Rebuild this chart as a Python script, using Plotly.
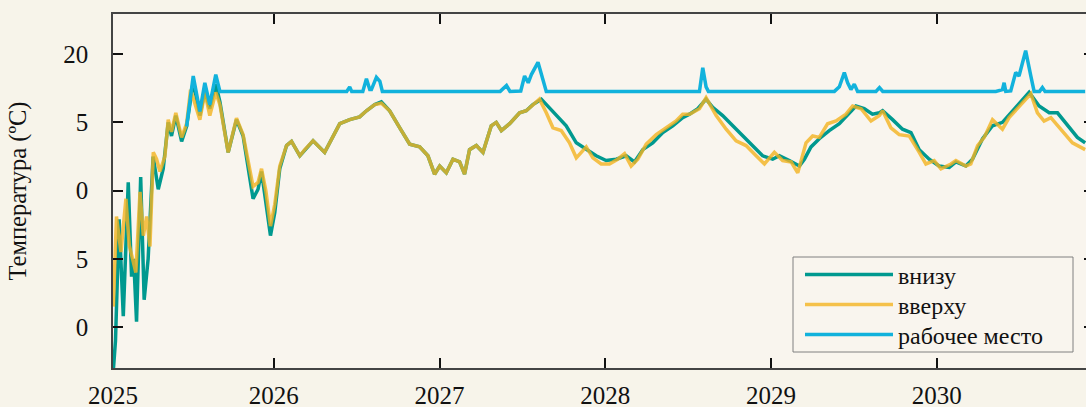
import plotly.graph_objects as go

# ---- data ----
bottom_x = [2025.030, 2025.045, 2025.067, 2025.092, 2025.122, 2025.142, 2025.155, 2025.172, 2025.197,
            2025.218, 2025.242, 2025.263, 2025.272, 2025.303, 2025.333, 2025.363, 2025.383, 2025.409,
            2025.444, 2025.474, 2025.514, 2025.554, 2025.584, 2025.614, 2025.650, 2025.675, 2025.725,
            2025.775, 2025.815, 2025.875, 2025.905, 2025.926, 2025.952, 2025.980, 2026.006, 2026.036,
            2026.077, 2026.107, 2026.157, 2026.187, 2026.237, 2026.307, 2026.398, 2026.458, 2026.518,
            2026.559, 2026.609, 2026.649, 2026.699, 2026.760, 2026.820, 2026.880, 2026.930, 2026.970,
            2027.001, 2027.041, 2027.081, 2027.121, 2027.151, 2027.181, 2027.222, 2027.262, 2027.312,
            2027.342, 2027.373, 2027.423, 2027.483, 2027.523, 2027.563, 2027.614, 2027.653, 2027.704,
            2027.764, 2027.825, 2027.885, 2027.945, 2028.005, 2028.066, 2028.126, 2028.176, 2028.226,
            2028.286, 2028.347, 2028.407, 2028.467, 2028.508, 2028.558, 2028.608, 2028.648, 2028.708,
            2028.769, 2028.829, 2028.889, 2028.949, 2029.010, 2029.050, 2029.110, 2029.171, 2029.201,
            2029.241, 2029.291, 2029.351, 2029.412, 2029.472, 2029.512, 2029.562, 2029.612, 2029.654,
            2029.673, 2029.733, 2029.793, 2029.844, 2029.894, 2029.954, 2030.014, 2030.075, 2030.115,
            2030.175, 2030.215, 2030.276, 2030.336, 2030.396, 2030.456, 2030.507, 2030.557, 2030.617,
            2030.678, 2030.728, 2030.788, 2030.848, 2030.895]
bottom_y = [-3.5, -1.0, 7.9, 0.8, 10.6, 3.7, 5.0, 0.4, 11.0,
            2.0, 5.0, 9.9, 12.5, 10.1, 11.6, 15.0, 14.0, 15.5,
            13.6, 14.7, 18.0, 15.5, 17.3, 16.0, 17.8, 16.5, 12.8,
            15.2, 14.0, 9.4, 10.1, 11.4, 9.2, 6.7, 8.4, 11.6,
            13.3, 13.6, 12.55, 13.0, 13.65, 12.8, 14.9, 15.2, 15.4,
            15.85, 16.3, 16.5, 15.85, 14.6, 13.4, 13.2, 12.55, 11.2,
            11.8, 11.3, 12.3, 12.1, 11.2, 13.0, 13.3, 12.8, 14.75,
            15.0, 14.4, 14.9, 15.7, 15.85, 16.3, 16.7, 16.2, 15.5,
            14.75, 13.5, 13.0, 12.55, 12.2, 12.3, 12.55, 12.1, 13.0,
            13.5, 14.25, 14.75, 15.35, 15.6, 16.0, 16.7, 16.1, 15.5,
            14.75, 14.0, 13.3, 12.55, 12.3, 12.55, 12.2, 11.8, 12.3,
            13.2, 13.8, 14.4, 14.9, 15.7, 16.2, 16.0, 15.6, 15.7,
            15.85, 15.2, 14.5, 14.25, 13.0, 12.3, 11.8, 11.7, 12.1,
            11.8, 12.3, 13.8, 14.75, 15.0, 15.85, 16.5, 17.2, 16.2,
            15.7, 15.7, 14.75, 13.9, 13.5]

top_x = [2025.032, 2025.051, 2025.078, 2025.108, 2025.128, 2025.148, 2025.168, 2025.193, 2025.213,
         2025.233, 2025.253, 2025.273, 2025.293, 2025.313, 2025.343, 2025.363, 2025.383, 2025.409,
         2025.444, 2025.474, 2025.498, 2025.554, 2025.584, 2025.614, 2025.650, 2025.675, 2025.725,
         2025.775, 2025.815, 2025.875, 2025.905, 2025.926, 2025.952, 2025.980, 2026.006, 2026.036,
         2026.077, 2026.107, 2026.157, 2026.187, 2026.237, 2026.307, 2026.398, 2026.458, 2026.518,
         2026.559, 2026.609, 2026.649, 2026.699, 2026.760, 2026.820, 2026.880, 2026.930, 2026.970,
         2027.001, 2027.041, 2027.081, 2027.121, 2027.151, 2027.181, 2027.222, 2027.262, 2027.312,
         2027.342, 2027.373, 2027.423, 2027.483, 2027.523, 2027.563, 2027.603, 2027.644, 2027.684,
         2027.734, 2027.784, 2027.825, 2027.885, 2027.925, 2027.975, 2028.025, 2028.075, 2028.116,
         2028.156, 2028.196, 2028.247, 2028.307, 2028.367, 2028.427, 2028.467, 2028.508, 2028.568,
         2028.608, 2028.669, 2028.729, 2028.789, 2028.849, 2028.910, 2028.960, 2029.020, 2029.070,
         2029.121, 2029.161, 2029.211, 2029.251, 2029.291, 2029.341, 2029.392, 2029.452, 2029.492,
         2029.543, 2029.603, 2029.654, 2029.673, 2029.723, 2029.773, 2029.834, 2029.894, 2029.934,
         2029.984, 2030.025, 2030.085, 2030.115, 2030.175, 2030.205, 2030.246, 2030.286, 2030.336,
         2030.396, 2030.436, 2030.497, 2030.547, 2030.567, 2030.607, 2030.647, 2030.688, 2030.748,
         2030.818, 2030.895]
top_y = [1.5, 8.1, 5.5, 9.4, 6.0, 5.0, 4.0, 9.9, 6.7,
         8.1, 5.9, 12.8, 12.3, 11.4, 12.5, 15.2, 14.3, 15.7,
         13.9, 14.9, 17.4, 15.2, 17.2, 15.5, 17.2, 16.3, 12.8,
         15.3, 14.1, 10.3, 10.6, 11.6, 10.0, 7.4, 9.0, 11.8,
         13.3, 13.6, 12.55, 13.0, 13.65, 12.8, 14.9, 15.2, 15.4,
         15.85, 16.3, 16.4, 15.85, 14.6, 13.4, 13.2, 12.55, 11.2,
         11.8, 11.3, 12.3, 12.1, 11.2, 13.0, 13.3, 12.8, 14.75,
         15.0, 14.4, 14.9, 15.7, 15.85, 16.3, 16.7, 15.7, 14.6,
         14.4, 13.5, 12.4, 13.2, 12.4, 11.95, 11.95, 12.3, 12.7,
         11.8, 12.3, 13.4, 14.1, 14.6, 15.1, 15.6, 15.6, 16.0,
         16.8, 15.5, 14.5, 13.65, 13.3, 12.55, 11.95, 12.8, 12.2,
         12.1, 11.3, 13.5, 14.0, 13.9, 14.9, 15.1, 15.6, 16.2,
         16.0, 15.1, 15.5, 15.85, 14.6, 14.1, 14.0, 12.8, 11.95,
         12.2, 11.6, 11.95, 12.2, 11.8, 11.95, 13.3, 13.9, 15.2,
         14.5, 15.35, 16.2, 16.8, 17.1, 15.7, 15.1, 15.35, 14.5,
         13.5, 13.0]

work_x = [2025.474, 2025.514, 2025.554, 2025.584, 2025.614, 2025.650, 2025.675,
          2026.440, 2026.458, 2026.470, 2026.537, 2026.559, 2026.579, 2026.589, 2026.619, 2026.640, 2026.655,
          2027.366, 2027.404, 2027.425, 2027.490, 2027.513, 2027.535, 2027.554, 2027.594, 2027.624, 2027.644,
          2028.568, 2028.588, 2028.608, 2028.622,
          2029.382, 2029.412, 2029.442, 2029.462, 2029.482, 2029.502, 2029.522,
          2029.633, 2029.654, 2029.674,
          2030.356, 2030.396, 2030.406, 2030.416, 2030.446, 2030.466, 2030.476, 2030.496, 2030.526,
          2030.536, 2030.567, 2030.587, 2030.620, 2030.637, 2030.653, 2030.895]
work_y = [14.7, 18.4, 15.8, 17.9, 16.3, 18.5, 17.27,
          17.27, 17.6, 17.27, 17.27, 18.2, 17.4, 17.4, 18.3, 18.0, 17.27,
          17.27, 17.7, 17.27, 17.3, 18.4, 17.9, 18.5, 19.4, 18.2, 17.27,
          17.27, 19.0, 17.6, 17.27,
          17.27, 17.6, 18.65, 17.9, 17.4, 17.8, 17.27,
          17.27, 17.55, 17.27,
          17.27, 17.4, 17.9, 17.27, 17.3, 18.3, 18.65, 18.4, 19.8,
          20.25, 18.4, 17.27, 17.27, 17.55, 17.27, 17.27]

series_names = ["внизу", "вверху", "рабочее место"]
x_tick_vals = [2025.03, 2026, 2027, 2028, 2029, 2030]
x_tick_text = ["2025", "2026", "2027", "2028", "2029", "2030"]
y_tick_vals = [0, 5, 10, 15, 20]
y_tick_text = ["0", "5", "0", "5", "20"]
y_title = "Температура (ºC)"

FONT = "Liberation Serif"
TEAL = "#00998f"
YELLOW = "#f4b420"
CYAN = "#12b2dc"
BG = "#f7f4ea"
PLOT_BG = "#f9f5ee"

# plot area in pixels: x 113..1086, y 14..368
PX_L, PX_W, PX_T, PX_H = 113, 973, 14, 354
def px_x(p):
    return (p - PX_L) / PX_W
def px_y(p):
    return (PX_T + PX_H - p) / PX_H

fig = go.Figure()
fig.add_trace(go.Scatter(x=bottom_x, y=bottom_y, mode="lines", name=series_names[0],
                         line=dict(color=TEAL, width=3.5), legend="legend"))
fig.add_trace(go.Scatter(x=top_x, y=top_y, mode="lines", name=series_names[1],
                         line=dict(color=YELLOW, width=3.5), opacity=0.8, legend="legend2"))
fig.add_trace(go.Scatter(x=work_x, y=work_y, mode="lines", name=series_names[2],
                         line=dict(color=CYAN, width=3.5), legend="legend3"))
# invisible trace to carry right-side tick stubs
fig.add_trace(go.Scatter(x=[x_tick_vals[1]], y=[y_tick_vals[0]], yaxis="y2", mode="lines",
                         showlegend=False, hoverinfo="skip", line=dict(width=0)))

# legend frame (drawn as a shape behind the legend entries)
fig.add_shape(type="rect", xref="paper", yref="paper",
              x0=px_x(793), x1=px_x(1073), y0=px_y(352), y1=px_y(257),
              line=dict(color="#808080", width=1), fillcolor=PLOT_BG, layer="above")

def leg(row_center):
    return dict(x=px_x(800), y=px_y(row_center), xanchor="left", yanchor="middle",
                bgcolor="rgba(0,0,0,0)", borderwidth=0,
                font=dict(family=FONT, size=24, color="#111111"), itemwidth=88)

fig.update_layout(
    width=1086, height=407,
    margin=dict(l=113, r=0, t=14, b=39),
    paper_bgcolor=BG,
    plot_bgcolor=PLOT_BG,
    font=dict(family=FONT, size=24, color="#111111"),
    showlegend=True,
    legend=leg(275),
    legend2=leg(305),
    legend3=leg(335),
    xaxis=dict(
        range=[2025.03, 2030.9], tickvals=x_tick_vals, ticktext=x_tick_text,
        ticks="inside", ticklen=10, tickwidth=2, tickcolor="#111111",
        showline=True, linecolor="#444444", linewidth=1.5, mirror="ticks",
        showgrid=False, zeroline=False, ticklabelstandoff=4, automargin=False,
        tickfont=dict(family=FONT, size=25),
    ),
    yaxis=dict(
        range=[-3.0, 22.94], tickvals=y_tick_vals, ticktext=y_tick_text,
        ticks="inside", ticklen=10, tickwidth=2, tickcolor="#111111",
        showline=True, linecolor="#444444", linewidth=1.5, mirror=False,
        showgrid=False, zeroline=False, ticklabelstandoff=18, automargin=False,
        tickfont=dict(family=FONT, size=25),
        title=dict(text=y_title, font=dict(family=FONT, size=24.5), standoff=30),
    ),
    yaxis2=dict(
        overlaying="y", side="right", range=[-3.0, 22.94], tickvals=y_tick_vals,
        showticklabels=False, ticks="inside", ticklen=2, tickwidth=2, tickcolor="#111111",
        showline=False, showgrid=False, zeroline=False, automargin=False,
    ),
)

fig.write_html("out.html")
